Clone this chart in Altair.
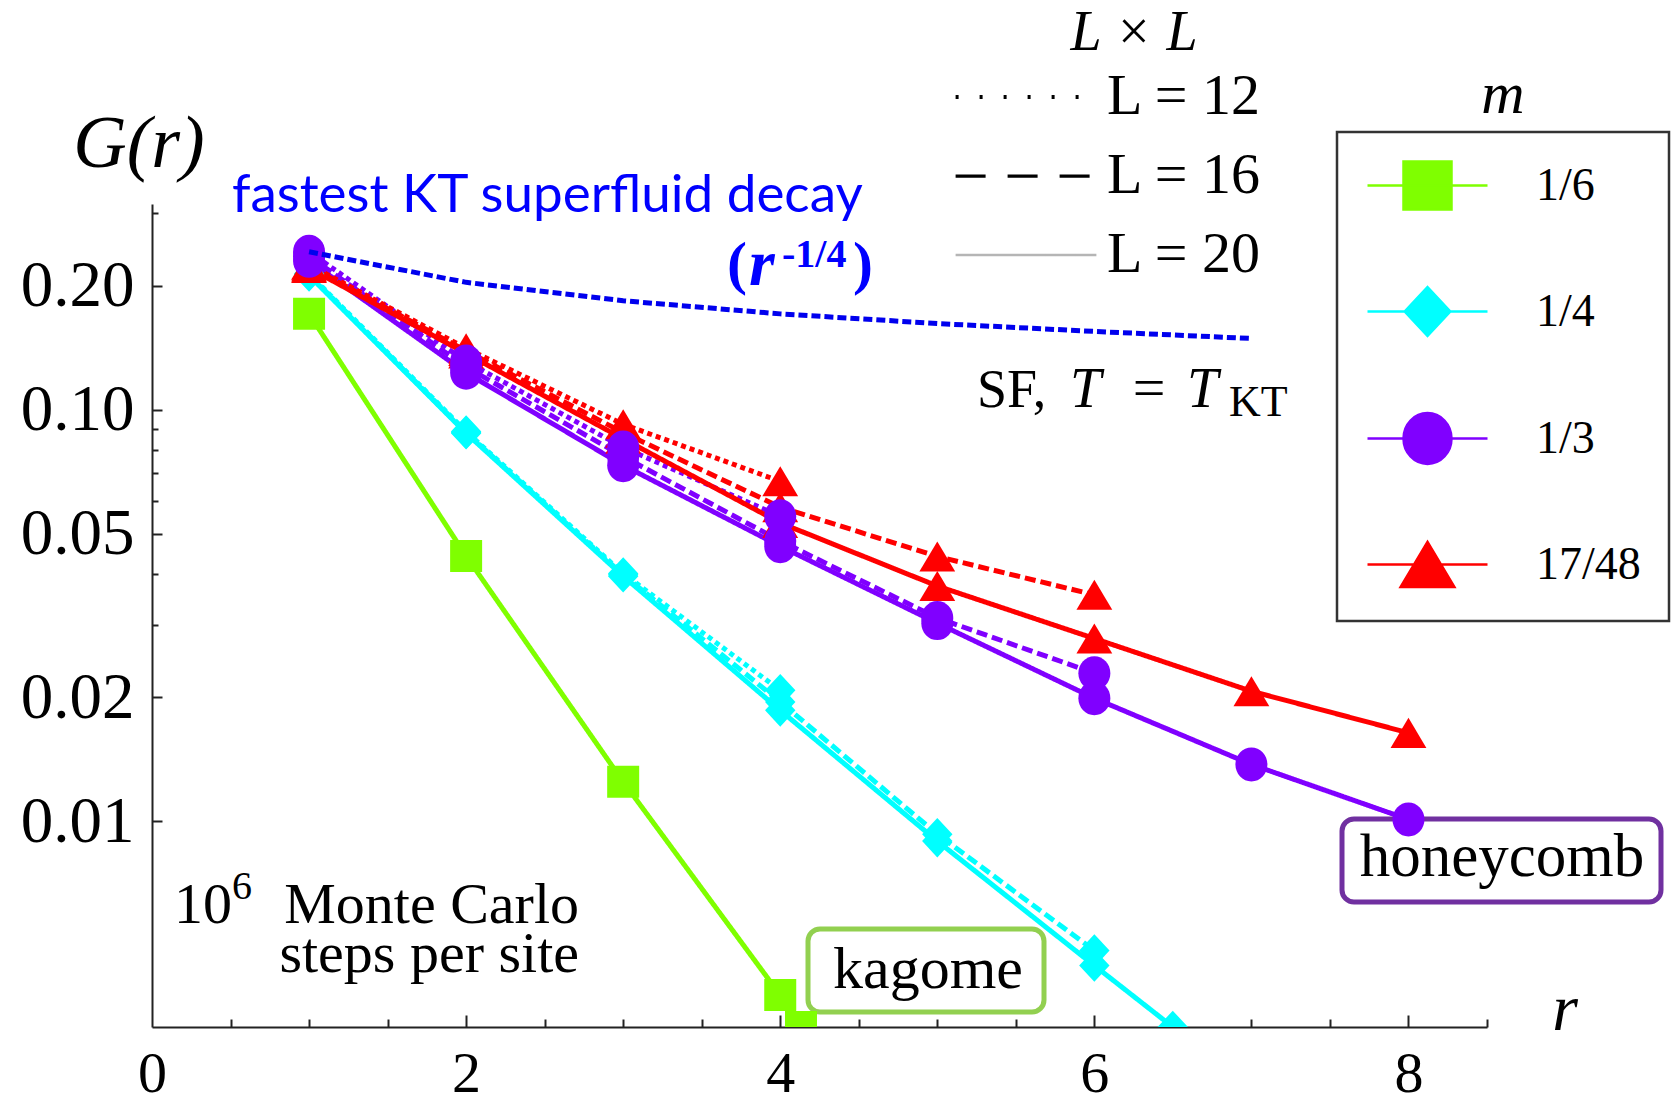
import math

import altair as alt
import pandas as pd

SERIF = "Liberation Serif"
SANS = "Lato"

# ---- series: correlation G(r) for filling m on L x L lattices ----
m_labels = ["1/6", "1/4", "1/3", "17/48"]
m_colors = ["#7fff00", "#00ffff", "#8000ff", "#ff0000"]
# marker outlines in unit coordinates (square, diamond, ellipse, triangle)
m_shapes = [
    "M-1,-1H1V1H-1Z",
    "M0,-1.02L0.95,0L0,1.02L-0.95,0Z",
    "M-1,0A1,1.06,0,1,0,1,0A1,1.06,0,1,0,-1,0Z",
    "M0,-0.94L1.12,0.94L-1.12,0.94Z",
]
# legend glyphs: the same markers with a line through them
m_key_shapes = ["M-2.5,0H2.5" + s for s in m_shapes]

L_labels = ["12", "16", "20"]
L_dashes = [[5, 4], [11, 5], [1, 0]]
L_key_dashes = [[3, 21], [30, 22], [1, 0]]
L_key_colors = ["#000000", "#000000", "#b5b5b5"]
L_key_widths = [4, 2.5, 1.5]

g_1_6_L20 = [0.171, 0.0441, 0.01247, 0.00378, 0.00098]
g_1_4_L12 = [0.214, 0.0885, 0.0400, 0.0208]
g_1_4_L16 = [0.213, 0.0880, 0.0397, 0.0195, 0.0093, 0.00485]
g_1_4_L20 = [0.212, 0.0877, 0.0394, 0.0186, 0.00895, 0.00446, 0.00224]
g_1_3_L12 = [0.242, 0.131, 0.081, 0.0551]
g_1_3_L16 = [0.236, 0.127, 0.077, 0.0480, 0.0312, 0.0229]
g_1_3_L20 = [0.230, 0.123, 0.0733, 0.0466, 0.0303, 0.0199, 0.01374, 0.0101]
g_17_48_L12 = [0.225, 0.141, 0.0922, 0.0670]
g_17_48_L16 = [0.223, 0.139, 0.088, 0.058, 0.0440, 0.0355]
g_17_48_L20 = [0.221, 0.137, 0.085, 0.0531, 0.0373, 0.0278, 0.0207, 0.0164]

# KT superfluid reference, G ~ r^(-1/4)
r_sf = [1, 2, 3, 4, 5, 6, 7]
g_sf = [0.242, 0.204, 0.184, 0.171, 0.162, 0.155, 0.149]

# axis ticks
x_major = [0, 2, 4, 6, 8]
x_ticks = [2, 4, 6, 8]
x_minor = [0.5, 1, 1.5, 2.5, 3, 3.5, 4.5, 5, 5.5, 6.5, 7, 7.5, 8.5]
y_major = [0.01, 0.02, 0.05, 0.1, 0.2]
y_minor = [0.03, 0.04, 0.06, 0.07, 0.08, 0.09, 0.3]

G_MIN = 10 ** -2.5
G_MAX = 10 ** -0.5

series = [
    ("1/6", "20", g_1_6_L20),
    ("1/4", "12", g_1_4_L12),
    ("1/4", "16", g_1_4_L16),
    ("1/4", "20", g_1_4_L20),
    ("1/3", "12", g_1_3_L12),
    ("1/3", "16", g_1_3_L16),
    ("1/3", "20", g_1_3_L20),
    ("17/48", "12", g_17_48_L12),
    ("17/48", "16", g_17_48_L16),
    ("17/48", "20", g_17_48_L20),
]

line_rows = []
marker_rows = []
for m, L, g in series:
    for i, v in enumerate(g):
        line_rows.append({"m": m, "L": L, "r": i + 1, "G": v})
        if v >= G_MIN:
            marker_rows.append({"m": m, "L": L, "r": i + 1, "G": v})
        else:
            # the curve leaves through the bottom edge: mark where it crosses
            lo, hi = math.log10(g[i - 1]), math.log10(v)
            t = (math.log10(G_MIN) - lo) / (hi - lo)
            marker_rows.append({"m": m, "L": L, "r": i + t, "G": G_MIN})
            break

lines_df = pd.DataFrame(line_rows)
draw_order = {"1/6": 0, "1/4": 1, "17/48": 2, "1/3": 3}
markers_df = pd.DataFrame(marker_rows)
markers_df["o"] = markers_df["m"].map(draw_order)
markers_df = markers_df.sort_values("o", kind="stable").drop(columns="o")
sf_df = pd.DataFrame({"r": r_sf, "G": g_sf})

# ---- scales and axes ----
x_scale = alt.Scale(domain=[0, 8.5], nice=False, zero=False)
y_scale = alt.Scale(type="log", domain=[G_MIN, G_MAX], nice=False)
color_scale = alt.Scale(domain=m_labels, range=m_colors)
shape_scale = alt.Scale(domain=m_labels, range=m_shapes)
key_shape_scale = alt.Scale(domain=m_labels, range=m_key_shapes)
dash_scale = alt.Scale(domain=L_labels, range=L_dashes)

AX = "#222222"
x_label_axis = alt.Axis(orient="bottom", values=x_major, format="d", ticks=False, tickSize=0,
                        labelPadding=64, labelBaseline="alphabetic", labelFont=SERIF,
                        labelFontSize=58, labelColor="black",
                        labelFlush=False, labelOverlap=False, domainColor=AX, domainWidth=2,
                        grid=False, title=None)
x_tick_axis = alt.Axis(orient="bottom", values=x_ticks, labels=False, domain=False, tickSize=12,
                       tickWidth=2, tickColor=AX, offset=-12, grid=False, title=None)
x_minor_axis = alt.Axis(orient="bottom", values=x_minor, labels=False, domain=False, tickSize=8,
                        tickWidth=2, tickColor=AX, offset=-8, grid=False, title=None)
y_label_axis = alt.Axis(orient="left", values=y_major, format=".2f", ticks=False, tickSize=0,
                        labelPadding=18, labelFont=SERIF, labelFontSize=65, labelColor="black",
                        labelFlush=False, labelOverlap=False, domainColor=AX, domainWidth=2,
                        grid=False, title=None)
y_tick_axis = alt.Axis(orient="left", values=y_major, labels=False, domain=False, tickSize=10,
                       tickWidth=2, tickColor=AX, offset=-10, grid=False, title=None)
y_minor_axis = alt.Axis(orient="left", values=y_minor, labels=False, domain=False, tickSize=6,
                        tickWidth=2, tickColor=AX, offset=-6, grid=False, title=None)

m_legend = alt.Legend(
    title=None, orient="none", legendX=1185, legendY=-72, padding=28,
    strokeColor="#333333", symbolSize=2304, symbolOffset=37, labelOffset=83,
    symbolStrokeWidth=2.5, symbolOpacity=1,
    rowPadding=67, labelFont=SERIF, labelFontSize=46, labelColor="black", labelLimit=400,
)

L_legend = alt.Legend(
    title=None, orient="none", legendX=800, legendY=-136, padding=0,
    symbolType="M-4.4,0H4.4", symbolSize=1024, symbolOffset=45, labelOffset=52,
    symbolOpacity=1,
    rowPadding=21, labelFont=SERIF, labelFontSize=58, labelColor="black", labelLimit=400,
    labelExpr="'L = ' + datum.label",
)

# ---- data layers ----
lines = alt.Chart(lines_df).mark_line(strokeWidth=5, clip=True).encode(
    x=alt.X("r:Q", scale=x_scale, axis=x_label_axis),
    y=alt.Y("G:Q", scale=y_scale, axis=y_label_axis),
    color=alt.Color("m:N", scale=color_scale, legend=None),
    strokeDash=alt.StrokeDash("L:N", scale=dash_scale, legend=None),
)

points = alt.Chart(markers_df).mark_point(filled=True, opacity=1, size=1024, clip=True, strokeWidth=0).encode(
    x=alt.X("r:Q", scale=x_scale, axis=x_tick_axis),
    y=alt.Y("G:Q", scale=y_scale, axis=y_tick_axis),
    color=alt.Color("m:N", scale=color_scale, legend=None),
    shape=alt.Shape("m:N", scale=shape_scale, legend=None),
)

sf_line = alt.Chart(sf_df).mark_line(color="#0000ee", strokeWidth=5, strokeDash=[9, 4], clip=True).encode(
    x=alt.X("r:Q", scale=x_scale, axis=x_minor_axis),
    y=alt.Y("G:Q", scale=y_scale, axis=y_minor_axis),
)

# legend-only layers: no rows survive the filter, the keys come from the scale domains
m_key = alt.Chart(markers_df).transform_filter("false").mark_point(
    filled=True, opacity=1, strokeWidth=2.5, size=2304
).encode(
    color=alt.Color("m:N", scale=color_scale, legend=m_legend),
    stroke=alt.Stroke("m:N", scale=color_scale, legend=m_legend),
    shape=alt.Shape("m:N", scale=key_shape_scale, legend=m_legend),
)

L_key = alt.Chart(lines_df).transform_filter("false").mark_line(opacity=1).encode(
    strokeDash=alt.StrokeDash("L:N", scale=alt.Scale(domain=L_labels, range=L_key_dashes), legend=L_legend),
    stroke=alt.Stroke("L:N", scale=alt.Scale(domain=L_labels, range=L_key_colors), legend=L_legend),
    strokeWidth=alt.StrokeWidth("L:N", scale=alt.Scale(domain=L_labels, range=L_key_widths), legend=L_legend),
)


# ---- annotations (pixel positions relative to the plot area) ----
def label(text, x, y, size, align="left", color="black", font=SERIF, style="normal", weight="normal",
          baseline="alphabetic"):
    return alt.Chart(pd.DataFrame({"t": [text]})).mark_text(
        align=align, baseline=baseline, fontSize=size, font=font, fontStyle=style,
        fontWeight=weight, color=color,
    ).encode(text="t:N", x=alt.value(x), y=alt.value(y))


def box(x1, x2, y1, y2, color):
    return alt.Chart(pd.DataFrame({"k": [0]})).mark_rect(
        cornerRadius=12, fill="white", stroke=color, strokeWidth=5,
    ).encode(x=alt.value(x1), x2=alt.value(x2), y=alt.value(y1), y2=alt.value(y2))


kagome_box = box(656, 892, 725, 808, "#92d050")
honeycomb_box = box(1190, 1509, 615, 698, "#7030a0")

BLUE = "#0000ff"
texts = [
    label("G(r)", -13, -37, 74, align="center", style="italic"),
    label("fastest KT superfluid decay", 80, 8, 53, font=SANS, color=BLUE),
    label("(", 575, 79, 60, color=BLUE, weight="bold"),
    label("r", 597, 81, 66, color=BLUE, weight="bold", style="italic"),
    label("-1/4", 630, 63, 40, color=BLUE, weight="bold"),
    label(")", 701, 79, 60, color=BLUE, weight="bold"),
    label("SF,", 825, 203, 54),
    label("T", 918, 203, 56, style="italic"),
    label("=", 997, 203, 58, align="center"),
    label("T", 1035, 203, 56, style="italic"),
    label("KT", 1077, 212, 44),
    label("10", 22, 719, 58),
    label("6", 80, 695, 40),
    label("Monte Carlo", 427, 719, 58, align="right"),
    label("steps per site", 427, 768, 58, align="right"),
    label("kagome", 776, 784, 60, align="center"),
    label("honeycomb", 1350, 672, 61, align="center"),
    label("r", 1413, 826, 66, align="center", style="italic"),
    label("m", 1351, -91, 60, align="center", style="italic"),
    label("L × L", 982, -154, 56, align="center", style="italic"),
]

chart = alt.layer(
    kagome_box, honeycomb_box, lines, points, sf_line, m_key, L_key, *texts
).resolve_axis(
    x="independent", y="independent"
).resolve_scale(
    color="independent", shape="independent", stroke="independent",
    strokeDash="independent", strokeWidth="independent",
).properties(
    width=1335, height=823,
    padding={"left": 152, "top": 204, "right": 185, "bottom": 77},
    autosize=alt.AutoSizeParams(type="none"),
    background="white",
).configure_view(stroke=None).configure_legend(strokeWidth=2.5)

chart.save("out.html", embed_options={"renderer": "svg", "actions": False})
